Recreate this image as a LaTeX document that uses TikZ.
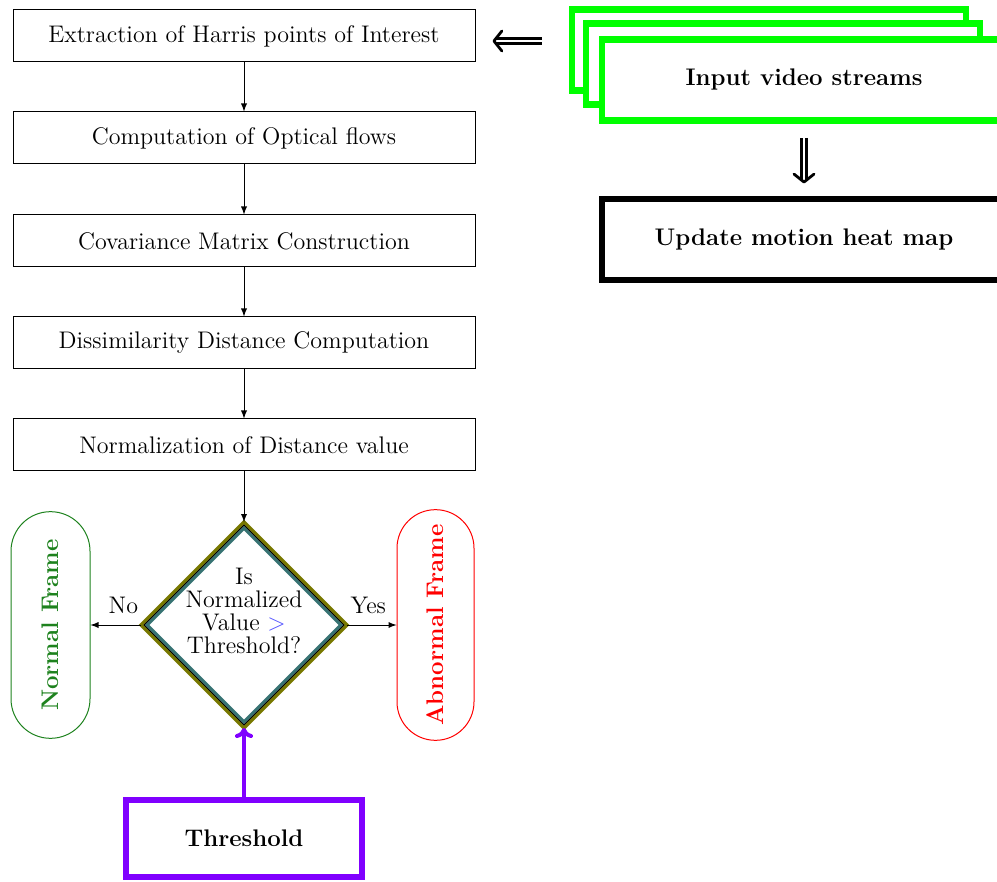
\documentclass[tikz,border=0pt]{standalone}
\usetikzlibrary{shapes.geometric, shapes.misc, arrows.meta}

\definecolor{normalgreen}{RGB}{30,130,30}
\definecolor{thresholdpurple}{RGB}{128,0,255}
\definecolor{diamondolive}{RGB}{120,120,0}
\definecolor{diamondteal}{RGB}{55,115,115}
\definecolor{compareblue}{RGB}{80,80,255}

\begin{document}
\begin{tikzpicture}[x=0.5pt, y=-0.5pt,
    stepbox/.style={draw, line width=0.5pt, minimum width=231pt, minimum height=26pt, font=\large},
    decision/.style={diamond, aspect=1, draw=diamondolive, line width=1.7pt, fill=white, inner sep=0pt, outer sep=0pt, minimum size=103pt},
    framebox/.style={rounded rectangle, rotate=90, line width=0.5pt, font=\large\bfseries},
    streambox/.style={draw=green, line width=3.3pt, fill=white, minimum width=197pt, minimum height=40.5pt, font=\large\bfseries},
    bigarrow/.style={double, double distance=1.2pt, line width=1.2pt, -{Straight Barb[length=4pt, width=10pt, line width=1.4pt, round]}}]
  \useasboundingbox (0,0) rectangle (997,882);

  % left column
  \node[stepbox] (harris) at (244,36) {Extraction of Harris points of Interest};
  \node[stepbox] (flow) at (244,138) {Computation of Optical flows};
  \node[stepbox] (covariance) at (244,241) {Covariance Matrix Construction};
  \node[stepbox] (distance) at (244,343) {Dissimilarity Distance Computation};
  \node[stepbox] (normalize) at (244,445) {Normalization of Distance value};

  \draw[-latex] (harris.south) -- (flow.north);
  \draw[-latex] (flow.south) -- (covariance.north);
  \draw[-latex] (covariance.south) -- (distance.north);
  \draw[-latex] (distance.south) -- (normalize.north);

  % decision
  \node[decision] (decide) at (244,625) {};
  \draw[black, line width=0.6pt] ([yshift=-1.6pt]decide.north) -- ([xshift=-1.6pt]decide.east)
    -- ([yshift=1.6pt]decide.south) -- ([xshift=1.6pt]decide.west) -- cycle;
  \draw[diamondteal, line width=1.5pt] ([yshift=-3.1pt]decide.north) -- ([xshift=-3.1pt]decide.east)
    -- ([yshift=3.1pt]decide.south) -- ([xshift=3.1pt]decide.west) -- cycle;
  \node[align=center, font=\fontsize{12}{11.5}\selectfont] (decidetext) at ([yshift=7pt]decide.center)
    {Is\\Normalized\\Value \textcolor{compareblue}{$>$}\\Threshold?};
  \draw[-latex] (normalize.south) -- (decide.north);

  \node[framebox, draw=normalgreen, text=normalgreen, minimum width=120pt, minimum height=39.5pt] (normal) at (50.5,625) {Normal Frame};
  \node[framebox, draw=red, text=red, minimum width=122pt, minimum height=38.5pt] (abnormal) at (435.5,625) {Abnormal Frame};

  \draw[-latex] (decide.west) -- node[pos=0.35, above=2pt, font=\large] {No} (normal.south);
  \draw[-latex] (decide.east) -- node[pos=0.43, above=2pt, font=\large] {Yes} (abnormal.north);

  % threshold
  \node[draw=thresholdpurple, line width=3pt, minimum width=118pt, minimum height=38.5pt, font=\large\bfseries] (threshold) at (244,838.5) {Threshold};
  \draw[thresholdpurple, line width=2pt, -{To[length=5pt, width=9pt]}] (threshold.north) -- (decide.south);

  % right side
  \node[streambox] (streamA) at (769,50) {};
  \node[streambox] (streamB) at (783,64) {};
  \node[streambox, minimum width=202pt] (streamC) at (804,80) {Input video streams};
  \node[draw, line width=3pt, minimum width=202pt, minimum height=40.5pt, font=\large\bfseries] (heatmap) at (804,240) {Update motion heat map};

  \coordinate (arrowrow) at (0,41);
  \draw[bigarrow, shorten <=13.5pt, shorten >=8.5pt] (streamA.west |- arrowrow) -- (harris.east |- arrowrow);
  \draw[bigarrow, shorten <=7pt, shorten >=6.5pt] (streamC.south) -- (streamC.south |- heatmap.north);
\end{tikzpicture}
\end{document}
